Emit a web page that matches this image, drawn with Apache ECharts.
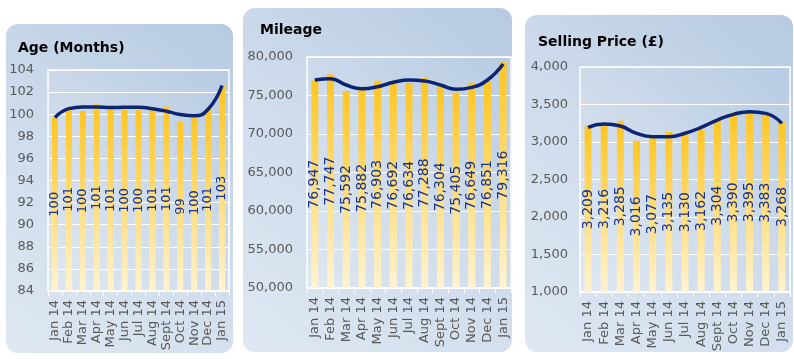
<!DOCTYPE html>
<html>
<head>
<meta charset="utf-8">
<script src="https://cdn.jsdelivr.net/npm/echarts@6/dist/echarts.min.js"></script>
<style>
html,body{margin:0;padding:0;background:#fff;}
#c{width:794px;height:359px;}
</style>
</head>
<body>
<div id="c"></div>
<script>
var months = ['Jan 14','Feb 14','Mar 14','Apr 14','May 14','Jun 14','Jul 14','Aug 14','Sept 14','Oct 14','Nov 14','Dec 14','Jan 15'];

var ageValues = [99.7, 100.6, 100.3, 100.9, 100.6, 100.4, 100.4, 100.6, 100.7, 99.3, 100.0, 100.6, 102.6];
var ageTrend  = [99.7, 100.5, 100.66, 100.66, 100.6, 100.63, 100.63, 100.5, 100.27, 99.97, 99.85, 100.45, 102.6];

var mileageValues = [76947, 77747, 75592, 75882, 76903, 76692, 76634, 77288, 76304, 75405, 76649, 76851, 79316];
var mileageTrend  = [77013, 77186, 76364, 75887, 76147, 76710, 77013, 76883, 76364, 75801, 76061, 77013, 79091];

var priceValues = [3209, 3216, 3285, 3016, 3077, 3135, 3130, 3162, 3304, 3390, 3395, 3383, 3268];
var priceTrend  = [3196, 3240, 3213, 3116, 3071, 3071, 3116, 3196, 3293, 3369, 3404, 3382, 3249];

var titles = ['Age (Months)', 'Mileage', 'Selling Price (£)'];
var ageAxis = {min: 84, max: 104, interval: 2};
var mileageAxis = {min: 50000, max: 80000, interval: 5000};
var priceAxis = {min: 1000, max: 4000, interval: 500};

function fmtComma(v){ return Math.round(v).toLocaleString('en-US'); }
function fmtRound(v){ return String(Math.round(v)); }

var FONT = 'DejaVu Sans';
var panelFill = {type:'linear', x:0, y:1, x2:1, y2:0, colorStops:[{offset:0,color:'#dfe8f3'},{offset:0.5,color:'#cfdcec'},{offset:1,color:'#b6cae2'}]};
var plotFill = {type:'linear', x:0, y:1, x2:1, y2:0, colorStops:[{offset:0,color:'#dee7f2'},{offset:0.5,color:'#cedbeb'},{offset:1,color:'#b7cbe3'}]};
var barFill = {type:'linear', x:0, y:0, x2:0, y2:1, colorStops:[{offset:0,color:'#ffc520'},{offset:1,color:'#fff4d2'}]};

var panels = [
  {x:6, y:24, w:227, h:329},
  {x:243, y:8, w:269, h:344},
  {x:525, y:15, w:268, h:337}
];

var grids = [
  {left:48, top:70, width:181, height:221},
  {left:307, top:57, width:204, height:231},
  {left:580, top:67, width:210, height:225}
];

function xAxis(i){
  return {
    type:'category', gridIndex:i, data:months,
    axisLine:{show:true, lineStyle:{color:'#ffffff', width:2}},
    axisTick:{show:true, length:5, lineStyle:{color:'#ffffff', width:1}},
    axisLabel:{rotate:90, interval:0, color:'#595959', fontSize:13, fontFamily:FONT, margin:9},
    splitLine:{show:false}
  };
}
function yAxis(i, ax, fmt, margin){
  return {
    type:'value', gridIndex:i, min:ax.min, max:ax.max, interval:ax.interval,
    axisLine:{show:false}, axisTick:{show:false},
    axisLabel:{color:'#595959', fontSize:13, fontFamily:FONT, margin:margin, formatter:fmt},
    splitLine:{show:true, lineStyle:{color:'#ffffff', width:1}}
  };
}
function barSeries(i, data, fmt, bw, fs){
  return {
    type:'bar', xAxisIndex:i, yAxisIndex:i, data:data, barWidth:bw,
    itemStyle:{color:barFill},
    label:{show:true, position:'inside', rotate:90, color:'#17338f', fontSize:fs, fontFamily:FONT,
      formatter:function(p){ return fmt(p.value); }},
    z:2
  };
}
function lineSeries(i, data){
  return {
    type:'line', xAxisIndex:i, yAxisIndex:i, data:data, smooth:true, symbol:'none',
    lineStyle:{color:'#0b2474', width:3.5}, z:5, silent:true
  };
}

var chart = echarts.init(document.getElementById('c'), null, {renderer:'canvas'});
chart.setOption({
  animation:false,
  backgroundColor:'#ffffff',
  graphic: panels.map(function(p){
    return {type:'rect', z:-10, shape:{x:p.x, y:p.y, width:p.w, height:p.h, r:12}, style:{fill:panelFill}};
  }),
  title:[
    {text:titles[0], left:18, top:41, padding:0, textStyle:{fontFamily:FONT, fontWeight:'bold', fontSize:14, color:'#000'}},
    {text:titles[1], left:260, top:23, padding:0, textStyle:{fontFamily:FONT, fontWeight:'bold', fontSize:14, color:'#000'}},
    {text:titles[2], left:538, top:35, padding:0, textStyle:{fontFamily:FONT, fontWeight:'bold', fontSize:14, color:'#000'}}
  ],
  grid: grids.map(function(g){
    return {left:g.left, top:g.top, width:g.width, height:g.height, show:true,
      backgroundColor:plotFill, borderColor:'#ffffff', borderWidth:1.5, containLabel:false};
  }),
  xAxis:[xAxis(0), xAxis(1), xAxis(2)],
  yAxis:[yAxis(0, ageAxis, fmtRound, 14), yAxis(1, mileageAxis, fmtComma, 14), yAxis(2, priceAxis, fmtComma, 12)],
  series:[
    barSeries(0, ageValues, fmtRound, 6, 13),
    lineSeries(0, ageTrend),
    barSeries(1, mileageValues, fmtComma, 7, 14),
    lineSeries(1, mileageTrend),
    barSeries(2, priceValues, fmtComma, 7, 14),
    lineSeries(2, priceTrend)
  ]
});
</script>
</body>
</html>
